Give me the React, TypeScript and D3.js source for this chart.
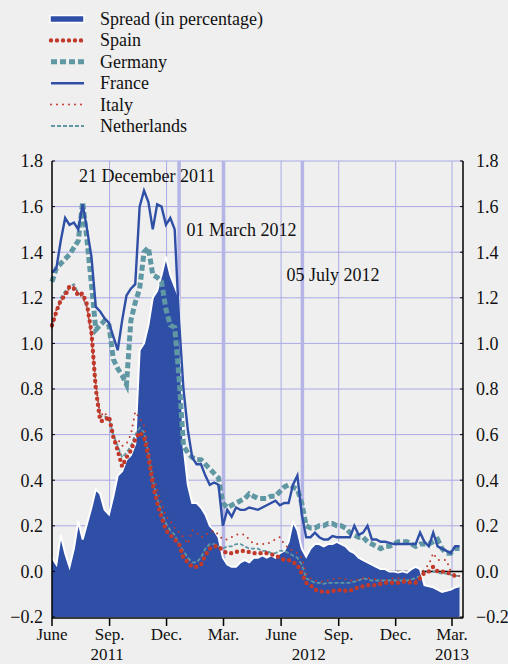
import * as d3 from 'd3';

// weekly readings, first one on 1 June 2011
const START = new Date(2011, 5, 1);

const spread = [
  0.06, 0.03, 0.16, 0.08, 0.02, 0.10, 0.22, 0.14, 0.21, 0.28,
  0.36, 0.34, 0.27, 0.25, 0.33, 0.42, 0.44, 0.49, 0.51, 0.56,
  0.97, 1.00, 1.08, 1.20, 1.23, 1.30, 1.38, 1.30, 1.25, 1.20,
  0.55, 0.38, 0.30, 0.30, 0.28, 0.25, 0.20, 0.18, 0.15, 0.06,
  0.03, 0.02, 0.02, 0.04, 0.05, 0.04, 0.06, 0.06, 0.07, 0.06,
  0.07, 0.06, 0.08, 0.09, 0.13, 0.22, 0.18, 0.10, 0.065, 0.10,
  0.12, 0.12, 0.11, 0.12, 0.12, 0.13, 0.12, 0.11, 0.09, 0.08,
  0.06, 0.05, 0.04, 0.03, 0.02, 0.01, 0.01, 0.0, 0.0, -0.005,
  0.0, -0.005, 0.01, 0.02, 0.01, -0.06, -0.065, -0.07, -0.08, -0.09,
  -0.085, -0.08, -0.07, -0.065,
];

const spain = [
  1.08, 1.14, 1.19, 1.21, 1.25, 1.24, 1.21, 1.22, 1.17, 1.05,
  0.80, 0.66, 0.66, 0.68, 0.59, 0.53, 0.46, 0.50, 0.53, 0.58,
  0.61, 0.59, 0.50, 0.38, 0.30, 0.24, 0.18, 0.16, 0.14, 0.12,
  0.06, 0.04, 0.02, 0.02, 0.03, 0.07, 0.10, 0.11, 0.11, 0.09,
  0.08, 0.08, 0.085, 0.09, 0.09, 0.085, 0.08, 0.08, 0.08, 0.08,
  0.075, 0.07, 0.06, 0.05, 0.05, 0.04, 0.03, -0.01, -0.05, -0.06,
  -0.08, -0.085, -0.09, -0.09, -0.085, -0.085, -0.08, -0.085, -0.085, -0.075,
  -0.07, -0.065, -0.06, -0.06, -0.06, -0.055, -0.05, -0.05, -0.05, -0.05,
  -0.045, -0.045, -0.05, -0.05, -0.03, -0.005, 0.0, 0.02, 0.0, 0.0,
  -0.005, -0.01, -0.02, -0.02,
];

const germany = [
  1.27, 1.33, 1.35, 1.37, 1.39, 1.42, 1.45, 1.62, 1.45, 1.26,
  1.06, 1.08, 1.10, 1.08, 0.93, 0.89, 0.86, 0.82, 1.10, 1.18,
  1.24, 1.40, 1.42, 1.30, 1.29, 1.27, 1.15, 1.08, 1.07, 0.85,
  0.55, 0.52, 0.50, 0.49, 0.49, 0.47, 0.45, 0.43, 0.41, 0.30,
  0.28, 0.29, 0.30, 0.31, 0.32, 0.34, 0.33, 0.32, 0.32, 0.32,
  0.33, 0.33, 0.35, 0.37, 0.38, 0.37, 0.36, 0.30, 0.20, 0.19,
  0.19, 0.20, 0.20, 0.21, 0.21, 0.20, 0.20, 0.19, 0.17, 0.16,
  0.15, 0.15, 0.13, 0.12, 0.11, 0.10, 0.11, 0.11, 0.12, 0.13,
  0.13, 0.13, 0.12, 0.11, 0.12, 0.12, 0.12, 0.13, 0.14, 0.10,
  0.08, 0.08, 0.10, 0.10,
];

const france = [
  1.31, 1.33, 1.45, 1.55, 1.52, 1.53, 1.50, 1.61, 1.50, 1.38,
  1.16, 1.14, 1.11, 1.09, 1.03, 0.97, 1.10, 1.21, 1.24, 1.26,
  1.60, 1.67, 1.62, 1.50, 1.61, 1.60, 1.52, 1.55, 1.50, 1.10,
  0.80, 0.62, 0.50, 0.47, 0.47, 0.42, 0.38, 0.39, 0.38, 0.20,
  0.27, 0.24, 0.28, 0.27, 0.27, 0.28, 0.275, 0.27, 0.28, 0.29,
  0.30, 0.31, 0.29, 0.30, 0.30, 0.38, 0.42, 0.25, 0.15, 0.15,
  0.17, 0.15, 0.14, 0.14, 0.155, 0.15, 0.15, 0.15, 0.15, 0.20,
  0.16, 0.17, 0.20, 0.14, 0.14, 0.13, 0.13, 0.125, 0.12, 0.12,
  0.12, 0.12, 0.12, 0.12, 0.17, 0.13, 0.11, 0.17, 0.11, 0.10,
  0.09, 0.08, 0.11, 0.11,
];

const italy = [
  1.07, 1.15, 1.18, 1.22, 1.24, 1.25, 1.22, 1.20, 1.16, 1.03,
  0.82, 0.68, 0.70, 0.66, 0.57, 0.58, 0.55, 0.56, 0.60, 0.70,
  0.67, 0.64, 0.55, 0.43, 0.36, 0.30, 0.24, 0.22, 0.19, 0.17,
  0.15, 0.12, 0.18, 0.17, 0.15, 0.16, 0.17, 0.18, 0.16, 0.14,
  0.14, 0.15, 0.16, 0.165, 0.16, 0.14, 0.12, 0.12, 0.12, 0.12,
  0.13, 0.14, 0.15, 0.12, 0.10, 0.09, 0.08, 0.06, -0.01, -0.03,
  -0.04, -0.045, -0.045, -0.04, -0.035, -0.03, -0.03, -0.035, -0.04, -0.04,
  -0.035, -0.03, -0.03, -0.03, -0.035, -0.04, -0.04, -0.035, -0.03, -0.03,
  -0.03, -0.035, -0.04, -0.04, -0.02, 0.01, 0.03, 0.08, 0.05, 0.05,
  0.05, 0.0, -0.02, -0.02,
];

const netherlands = [
  1.07, 1.14, 1.20, 1.23, 1.25, 1.26, 1.22, 1.21, 1.15, 1.04,
  0.82, 0.68, 0.68, 0.67, 0.60, 0.55, 0.50, 0.52, 0.55, 0.60,
  0.63, 0.61, 0.52, 0.40, 0.32, 0.26, 0.21, 0.18, 0.16, 0.12,
  0.09, 0.06, 0.04, 0.04, 0.06, 0.10, 0.12, 0.12, 0.11, 0.10,
  0.11, 0.11, 0.12, 0.12, 0.11, 0.10, 0.10, 0.10, 0.09, 0.09,
  0.08, 0.08, 0.09, 0.09, 0.08, 0.07, 0.06, 0.03, -0.03, -0.04,
  -0.05, -0.05, -0.055, -0.05, -0.05, -0.05, -0.05, -0.05, -0.05, -0.045,
  -0.04, -0.03, -0.035, -0.04, -0.04, -0.04, -0.04, -0.04, -0.04, -0.04,
  -0.04, -0.04, -0.035, -0.03, -0.02, 0.0, 0.0, 0.0, -0.005, -0.01,
  -0.01, -0.015, -0.02, -0.02,
];

const yTicks = [-0.2, 0, 0.2, 0.4, 0.6, 0.8, 1.0, 1.2, 1.4, 1.6, 1.8];
const monthTicks = [
  new Date(2011, 5, 1), new Date(2011, 8, 1), new Date(2011, 11, 1), new Date(2012, 2, 1),
  new Date(2012, 5, 1), new Date(2012, 8, 1), new Date(2012, 11, 1), new Date(2013, 2, 1),
];
const monthLabels = ['June', 'Sep.', 'Dec.', 'Mar.', 'June', 'Sep.', 'Dec.', 'Mar.'];
const yearLabels = ['2011', '2012', '2013'];
const yearDates = [new Date(2011, 7, 28), new Date(2012, 6, 15), new Date(2013, 2, 1)];

const eventDates = [new Date(2011, 11, 21), new Date(2012, 2, 1), new Date(2012, 6, 5)];
const eventLabels = ['21 December 2011', '01 March 2012', '05 July 2012'];
const eventLabelDx = [-100, -37, -16];
const eventLabelY = [182, 236, 281];

const BLUE = '#2f4fa7';
const RED = '#c0392b';
const TEAL = '#5f97a3';
const GRID = '#a9a9e6';
const FONT = '"Liberation Serif", "Times New Roman", serif';

export default function App() {
  const width = 508;
  const height = 664;
  const left = 52;
  const right = 463;
  const top = 161;
  const bottom = 617;

  const dates = spread.map((_, i) => d3.timeDay.offset(START, i * 7));
  const x = d3.scaleTime().domain([new Date(2011, 5, 1), new Date(2013, 2, 1)]).range([left, 452]);
  const y = d3.scaleLinear().domain([-0.2, 1.8]).range([bottom, top]);

  const line = (vals: number[]) =>
    d3.line<number>().x((_, i) => x(dates[i])).y(v => y(v)).curve(d3.curveLinear)(vals) || '';
  const area = d3.area<number>().x((_, i) => x(dates[i])).y0(y(-0.2)).y1(v => y(v))(spread) || '';

  const legend = [
    { name: 'Spread (in percentage)', kind: 'area' },
    { name: 'Spain', kind: 'spain' },
    { name: 'Germany', kind: 'germany' },
    { name: 'France', kind: 'france' },
    { name: 'Italy', kind: 'italy' },
    { name: 'Netherlands', kind: 'netherlands' },
  ];

  const styleOf = (kind: string) => {
    switch (kind) {
      case 'spain': return { stroke: RED, strokeWidth: 4.4, strokeDasharray: '0 6', strokeLinecap: 'round' as const };
      case 'germany': return { stroke: TEAL, strokeWidth: 5, strokeDasharray: '6 3' };
      case 'france': return { stroke: BLUE, strokeWidth: 2.4 };
      case 'italy': return { stroke: RED, strokeWidth: 2, strokeDasharray: '0 6', strokeLinecap: 'round' as const };
      default: return { stroke: TEAL, strokeWidth: 1.8, strokeDasharray: '4 2' };
    }
  };

  return (
    <svg width={width} height={height} style={{ position: 'absolute', left: 0, top: 0 }}
      fontFamily={FONT} fontSize={18}>
      <rect width={width} height={height} fill="#efefef" />

      {/* legend */}
      {legend.map((d, i) => {
        const cy = 19 + i * 21.4;
        return (
          <g key={d.name}>
            {d.kind === 'area'
              ? <rect x={50} y={cy - 3.5} width={34} height={7} fill={BLUE} stroke="#fff" strokeWidth={1.5} />
              : <line x1={51} x2={84} y1={cy} y2={cy} fill="none" {...styleOf(d.kind)} />}
            <text x={100} y={cy + 6} fill="#111">{d.name}</text>
          </g>
        );
      })}

      {/* grid */}
      {yTicks.slice(1).map(t => (
        <line key={t} x1={left} x2={right} y1={y(t)} y2={y(t)} stroke={GRID} strokeWidth={1} />
      ))}
      {monthTicks.slice(1).map((t, i) => (
        <line key={i} x1={x(t)} x2={x(t)} y1={top} y2={bottom} stroke={GRID} strokeWidth={1} />
      ))}
      {eventDates.map((t, i) => (
        <line key={i} x1={x(t)} x2={x(t)} y1={top} y2={bottom} stroke="#b4b4e6" strokeWidth={3.5} />
      ))}

      {/* zero line */}
      <line x1={left} x2={right} y1={y(0)} y2={y(0)} stroke="#000" strokeWidth={1.5} />

      {/* spread area */}
      <path d={area} fill={BLUE} />
      <path d={line(spread)} fill="none" stroke="#fff" strokeWidth={2} />

      <path d={line(germany)} fill="none" {...styleOf('germany')} />
      <path d={line(france)} fill="none" {...styleOf('france')} />
      <path d={line(netherlands)} fill="none" {...styleOf('netherlands')} />
      <path d={line(italy)} fill="none" {...styleOf('italy')} />
      <path d={line(spain)} fill="none" {...styleOf('spain')} />

      {/* event labels */}
      {eventDates.map((t, i) => (
        <text key={i} x={x(t) + eventLabelDx[i]} y={eventLabelY[i]} fill="#111">{eventLabels[i]}</text>
      ))}

      {/* axes */}
      <line x1={left} x2={left} y1={top} y2={bottom + 1} stroke="#000" strokeWidth={1.5} />
      <line x1={right} x2={right} y1={top} y2={bottom + 1} stroke="#000" strokeWidth={1.5} />
      <line x1={left} x2={right} y1={bottom + 1} y2={bottom + 1} stroke="#000" strokeWidth={1.5} />
      {yTicks.map(t => (
        <g key={t}>
          <line x1={left} x2={left + 3} y1={y(t)} y2={y(t)} stroke="#000" strokeWidth={1} />
          <line x1={right - 3} x2={right} y1={y(t)} y2={y(t)} stroke="#000" strokeWidth={1} />
          <text x={43} y={y(t)} dy="0.35em" textAnchor="end" fill="#111">{d3.format('.1f')(t)}</text>
          <text x={476} y={y(t)} dy="0.35em" textAnchor="start" fill="#111">{d3.format('.1f')(t)}</text>
        </g>
      ))}
      {monthTicks.map((t, i) => (
        <g key={i}>
          <line x1={x(t)} x2={x(t)} y1={bottom + 1} y2={bottom + 9} stroke="#000" strokeWidth={1.5} />
          <text x={x(t)} y={640} textAnchor="middle" fontSize={17} fill="#111">{monthLabels[i]}</text>
        </g>
      ))}
      {yearDates.map((t, i) => (
        <text key={i} x={x(t)} y={660} textAnchor="middle" fontSize={17} fill="#111">{yearLabels[i]}</text>
      ))}
    </svg>
  );
}
